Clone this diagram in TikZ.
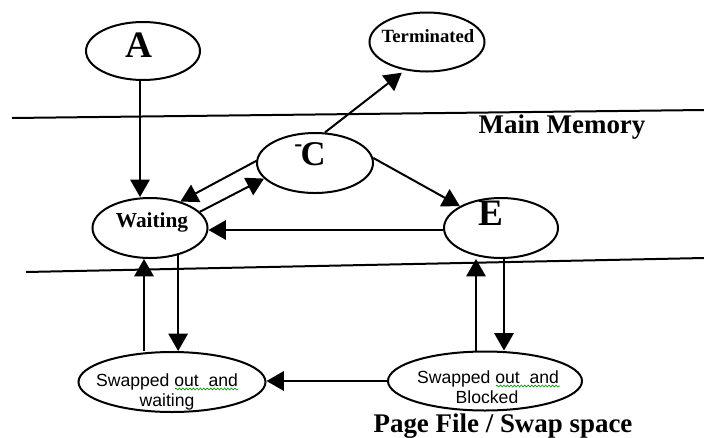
\documentclass[tikz,border=0pt]{standalone}
\usepackage{fontspec}
\setmainfont{Liberation Serif}
\setsansfont{Liberation Sans}
\usetikzlibrary{arrows.meta,shapes.geometric,calc,decorations.pathmorphing}
\begin{document}
\begin{tikzpicture}[x=0.75pt,y=-0.75pt,
  state/.style={draw, ellipse, line width=1.5pt, inner sep=0pt},
  arr/.style={line width=1.5pt, -{Triangle[length=13pt,width=14.5pt]}},
  sep/.style={line width=1.5pt},
  lbl/.style={anchor=base, inner sep=0pt},
  huge/.style={lbl, font=\bfseries\fontsize{28}{30}\selectfont},
  mid/.style={lbl, font=\bfseries\fontsize{26}{28}\selectfont},
  sml/.style={lbl, font=\bfseries\fontsize{16}{18}\selectfont},
  tiny/.style={lbl, font=\bfseries\fontsize{14}{16}\selectfont},
  sans/.style={lbl, font=\sffamily\fontsize{13.2}{15}\selectfont},
  title/.style={lbl, font=\bfseries\fontsize{20.2}{22}\selectfont},
  spell/.style={green!60!black, line width=0.5pt, decorate,
    decoration={snake, amplitude=0.7pt, segment length=2.6pt}}
]
\useasboundingbox (0,0) rectangle (704,437);

% separator lines
\draw[sep] (12,118) -- (704,110);
\draw[sep] (26,272) -- (704,258);

% states
\node[state, minimum width=85.5pt, minimum height=43.5pt] (A) at (143,51) {};
\node[state, minimum width=86.25pt, minimum height=44.25pt] (T) at (427,42) {};
\node[state, minimum width=87pt, minimum height=45pt] (C) at (315,163) {};
\node[state, minimum width=86.25pt, minimum height=45pt] (W) at (150,228) {};
\node[state, minimum width=85.5pt, minimum height=45pt] (E) at (501,228) {};
\node[state, minimum width=140.25pt, minimum height=45pt] (SW) at (172,382) {};
\node[state, minimum width=145.5pt, minimum height=44.25pt] (SB) at (485,381) {};

% labels
\node[huge] (tA) at (139,57) {A};
\node[tiny] (tT) at (428,42) {Terminated};
\node[mid] (tC) at (310,165) {\raisebox{0.4em}{\fontsize{18}{18}\selectfont -}\kern-0.05em C};
\node[sml] (tW) at (152,227) {Waiting};
\node[huge] (tE) at (491,225) {E};
\node[sans] (tSW1) at (167,386) {Swapped out\ \ and};
\node[sans] (tSW2) at (167,406) {waiting};
\node[sans] (tSB1) at (488,383) {Swapped out\ \ and};
\node[sans] (tSB2) at (487,403) {Blocked};
\node[title] (tMM) at (562,133) {Main Memory};
\node[title] (tPF) at (503,432) {Page File / Swap space};

% spell-check squiggles
\draw[spell] (175,389) -- (238,389);
\draw[spell] (496,386) -- (560,386);

% connectors
\draw[arr] ([xshift=-2.25pt]A.south) -- ([xshift=-2.25pt]A.south |- W.north);
\draw[arr] (C.178) -- (W.41);
\draw[arr] (W.18) -- (C.197);
\draw[arr, shorten >=3pt] (C.72) -- (T.232);
\draw[arr] (C.5) -- (E.152);
\draw[arr] ([yshift=-1.5pt]E.west) -- ([yshift=-1.5pt]W.east);
\draw[arr] ([xshift=-21pt]SW.north) -- ([xshift=-21pt]SW.north |- W.south);
\draw[arr] (W.-44) -- (W.-44 |- SW.north);
\draw[arr] (SB.west) -- (SB.west -| SW.east);
\draw[arr] ([xshift=-6.75pt]SB.north) -- ([xshift=-6.75pt]SB.north |- E.south);
\draw[arr] ([xshift=2.25pt]E.south) -- ([xshift=2.25pt]E.south |- SB.north);
\end{tikzpicture}
\end{document}
